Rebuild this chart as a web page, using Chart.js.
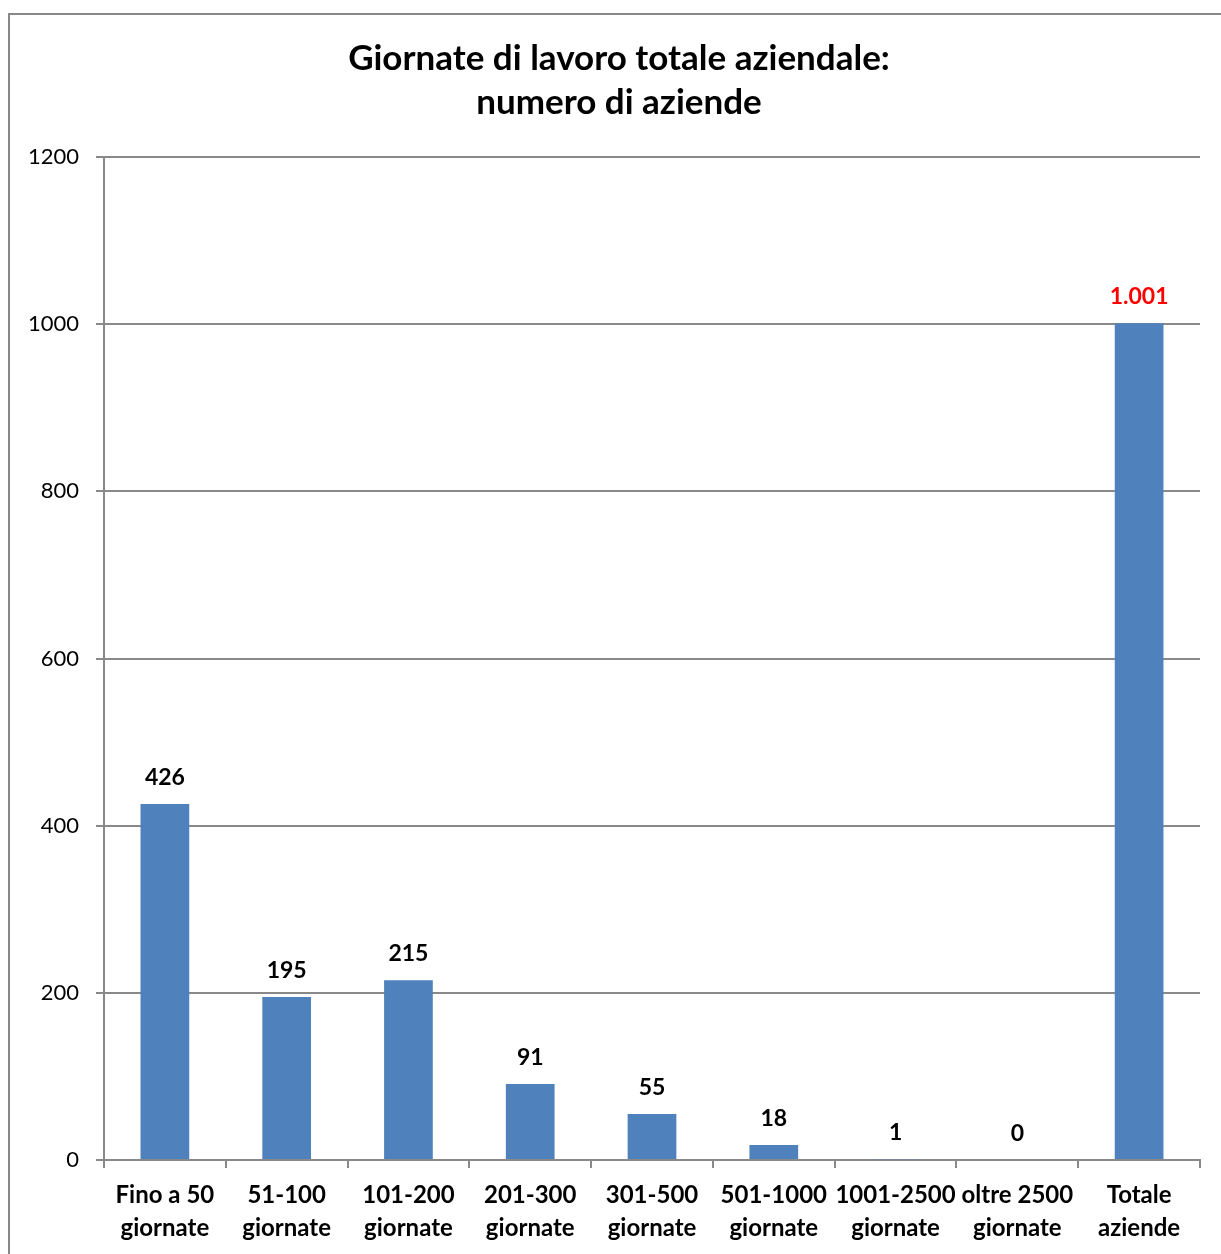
<!DOCTYPE html>
<html>
<head>
<meta charset="utf-8">
<title>Giornate di lavoro totale aziendale</title>
<script src="https://cdn.jsdelivr.net/npm/chart.js@4/dist/chart.umd.min.js"></script>
<style>
  html, body { margin: 0; padding: 0; background: #fff; overflow: hidden; }
  #wrap { position: relative; width: 1238px; height: 1254px; }
</style>
</head>
<body>
<div id="wrap"><canvas id="chart" width="1238" height="1254"></canvas></div>
<script>
// Data
const titleLines = ['Giornate di lavoro totale aziendale:', 'numero di aziende'];
const categories = [
  ['Fino a 50', 'giornate'],
  ['51-100', 'giornate'],
  ['101-200', 'giornate'],
  ['201-300', 'giornate'],
  ['301-500', 'giornate'],
  ['501-1000', 'giornate'],
  ['1001-2500', 'giornate'],
  ['oltre 2500', 'giornate'],
  ['Totale', 'aziende']
];
const aziende = [426, 195, 215, 91, 55, 18, 1, 0, 1001];
const yMin = 0, yMax = 1200, yStep = 200;

const FONT = 'Lato, "Open Sans", sans-serif';
const GRID = '#898989';
const BAR = '#4F81BD';

// Italian style thousands separator (1.001)
function fmt(v) {
  return String(v).replace(/\B(?=(\d{3})+(?!\d))/g, '.');
}

// outer frame + title (title centred on the frame, not the plot)
const framePlugin = {
  id: 'frame',
  beforeDraw(chart) {
    const ctx = chart.ctx;
    ctx.save();
    ctx.strokeStyle = GRID;
    ctx.lineWidth = 2;
    ctx.strokeRect(9, 14, chart.width + 20, chart.height + 20);
    ctx.fillStyle = '#000';
    ctx.font = 'bold 35px ' + FONT;
    ctx.textAlign = 'center';
    ctx.textBaseline = 'middle';
    titleLines.forEach((t, i) => ctx.fillText(t, 619, 59 + i * 44));
    ctx.restore();
  }
};

// value labels above the bars
const valueLabels = {
  id: 'valueLabels',
  afterDatasetsDraw(chart) {
    const ctx = chart.ctx;
    const meta = chart.getDatasetMeta(0);
    ctx.save();
    ctx.font = 'bold 23px ' + FONT;
    ctx.textAlign = 'center';
    ctx.textBaseline = 'bottom';
    meta.data.forEach((bar, i) => {
      const last = i === aziende.length - 1;
      ctx.fillStyle = last ? '#FF0000' : '#000000';
      ctx.fillText(fmt(aziende[i]), bar.x, bar.y - 15);
    });
    ctx.restore();
  }
};

const chart = new Chart(document.getElementById('chart'), {
  type: 'bar',
  data: {
    labels: categories,
    datasets: [{
      data: aziende,
      backgroundColor: BAR,
      borderWidth: 0,
      categoryPercentage: 1,
      barPercentage: 0.4
    }]
  },
  options: {
    responsive: false,
    animation: false,
    devicePixelRatio: 1,
    layout: { padding: { left: 0, right: 38, top: 157, bottom: 10 } },
    plugins: {
      legend: { display: false },
      tooltip: { enabled: false },
      title: { display: false }
    },
    scales: {
      x: {
        grid: {
          offset: true,
          drawOnChartArea: false,
          drawTicks: true,
          tickLength: 8,
          color: GRID,
          lineWidth: 2
        },
        border: { display: true, color: GRID, width: 2 },
        ticks: {
          color: '#000',
          padding: 11,
          maxRotation: 0,
          autoSkip: false,
          font: { family: FONT, size: 24, weight: 'bold', lineHeight: 1.38 }
        },
        afterFit(scale) { scale.height = 84; }
      },
      y: {
        min: yMin,
        max: yMax,
        grid: {
          color: GRID,
          lineWidth: 2,
          tickLength: 8
        },
        border: { display: true, color: GRID, width: 2 },
        ticks: {
          stepSize: yStep,
          color: '#000',
          padding: 17,
          font: { family: FONT, size: 22 },
          callback: (v) => String(v)
        },
        afterFit(scale) { scale.width = 104; }
      }
    }
  },
  plugins: [framePlugin, valueLabels]
});
</script>
</body>
</html>
